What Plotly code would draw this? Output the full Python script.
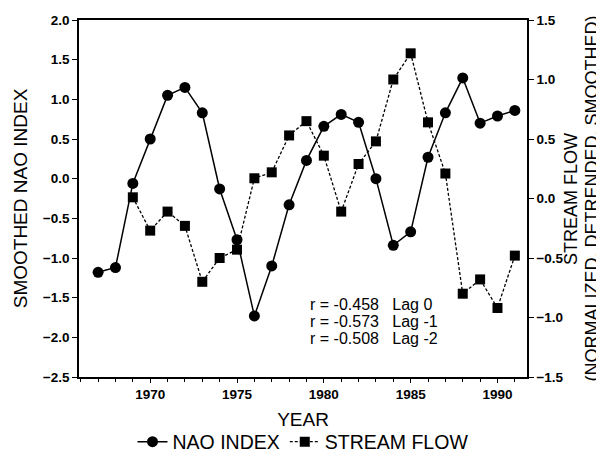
import plotly.graph_objects as go

years = list(range(1967, 1992))
nao_index = [-1.18, -1.12, -0.06, 0.50, 1.05, 1.15, 0.83, -0.13, -0.77, -1.73,
             -1.10, -0.33, 0.23, 0.66, 0.81, 0.71, 0.00, -0.84, -0.67, 0.27,
             0.83, 1.27, 0.70, 0.79, 0.86]

flow_years = list(range(1969, 1992))
stream_flow = [0.01, -0.27, -0.11, -0.23, -0.70, -0.50, -0.43, 0.17, 0.22, 0.53,
               0.65, 0.36, -0.11, 0.29, 0.48, 1.00, 1.22, 0.64, 0.21, -0.80,
               -0.68, -0.92, -0.48]

stats_text = ["r = -0.458   Lag 0", "r = -0.573   Lag -1", "r = -0.508   Lag -2"]
stats_y = [-1.58, -1.795, -2.01]

right_title = ["STREAM FLOW", "(NORMALIZED, DETRENDED, SMOOTHED)"]
right_title_x = [1.097, 1.145]

FONT = "Liberation Sans, Arial, sans-serif"

fig = go.Figure()
fig.add_trace(go.Scatter(
    x=years, y=nao_index, name="NAO INDEX", mode="lines+markers",
    line=dict(color="black", width=1.5),
    marker=dict(symbol="circle", size=11, color="black"),
    yaxis="y"))
fig.add_trace(go.Scatter(
    x=flow_years, y=stream_flow, name="STREAM FLOW", mode="lines+markers",
    line=dict(color="black", width=1.3, dash="3px,2px"),
    marker=dict(symbol="square", size=10, color="black"),
    yaxis="y2"))

for t, yv in zip(stats_text, stats_y):
    fig.add_annotation(x=1979.1, y=yv, xref="x", yref="y", text=t,
                       showarrow=False, xanchor="left", yanchor="middle",
                       font=dict(family=FONT, size=16, color="black"))

for t, xv in zip(right_title, right_title_x):
    fig.add_annotation(x=xv, y=0.5, xref="paper", yref="paper", text=t,
                       textangle=-90, showarrow=False, xanchor="center",
                       yanchor="middle",
                       font=dict(family=FONT, size=18, color="black"))

tickfont = dict(family=FONT, size=13.5, color="black", weight="bold")

fig.update_layout(
    width=604, height=465,
    margin=dict(l=71, r=85, t=12, b=80),
    paper_bgcolor="white", plot_bgcolor="white",
    font=dict(family=FONT, color="black"),
    showlegend=True,
    legend=dict(orientation="h", x=0.5, xanchor="center", y=-0.182,
                yanchor="middle", font=dict(family=FONT, size=19.5),
                itemwidth=30, bgcolor="rgba(0,0,0,0)"),
    xaxis=dict(
        range=[1965.9, 1991.7], tick0=1970, dtick=5, tickmode="linear",
        ticks="outside", ticklen=4, tickwidth=1, tickcolor="black",
        minor=dict(dtick=1, tick0=1970, ticks="outside", ticklen=3, tickcolor="black"),
        showline=True, linecolor="black", linewidth=1.5, mirror=True,
        showgrid=False, zeroline=False, tickfont=tickfont, automargin=False,
        title=dict(text="YEAR", font=dict(family=FONT, size=19), standoff=12)),
    yaxis=dict(
        range=[-2.5, 2.0], dtick=0.5, tick0=0, tickformat=".1f",
        ticks="outside", ticklen=5, tickwidth=1, tickcolor="black",
        showline=True, linecolor="black", linewidth=1.5, automargin=False,
        showgrid=False, zeroline=False, tickfont=tickfont,
        title=dict(text="SMOOTHED NAO INDEX", font=dict(family=FONT, size=19), standoff=10)),
    yaxis2=dict(
        range=[-1.5, 1.5], dtick=0.5, tick0=0, tickformat=".1f",
        overlaying="y", side="right",
        ticks="outside", ticklen=5, tickwidth=1, tickcolor="black",
        showline=True, linecolor="black", linewidth=1.5, automargin=False,
        showgrid=False, zeroline=False, tickfont=tickfont),
)

fig.write_html("out.html")
